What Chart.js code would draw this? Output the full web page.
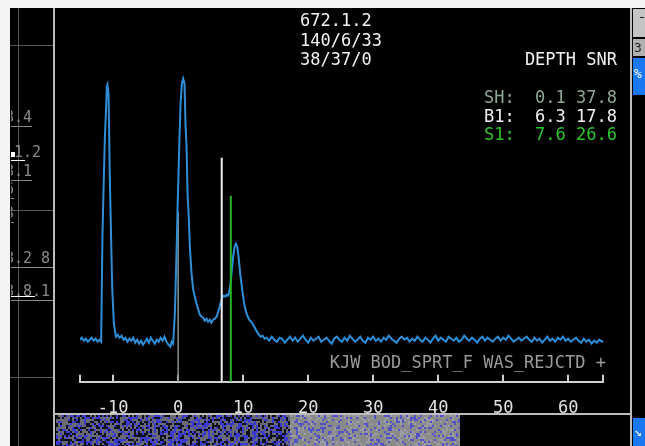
<!DOCTYPE html>
<html><head><meta charset="utf-8">
<script src="https://cdn.jsdelivr.net/npm/chart.js@4.4.1/dist/chart.umd.min.js"></script>
<style>html,body{margin:0;padding:0;background:#000;overflow:hidden}canvas{display:block}</style>
</head><body>
<canvas id="c" width="645" height="446"></canvas>
<script>
// ---- data ----
const xTicks = [-10, 0, 10, 20, 30, 40, 50, 60];
const xMin = -15.1, xMax = 65.4;
const yMax = 361.7;

const waveX = [
  -15.1,-14.8,-14.5,-14.2,-13.9,-13.6,-13.3,-13.0,-12.7,-12.4,-12.1,-11.85,
  -11.64,-11.43,-11.28,-11.12,-10.97,-10.87,-10.71,-10.51,-10.35,-10.15,-9.89,-9.58,
  -9.3,-9.0,-8.7,-8.4,-8.1,-7.8,-7.5,-7.2,-6.9,-6.6,-6.3,-6.0,-5.7,-5.4,-5.1,-4.8,-4.5,-4.2,-3.9,-3.6,-3.3,-3.0,-2.7,-2.4,-2.1,-1.8,-1.5,-1.2,-1.0,
  -0.77,-0.51,-0.35,-0.2,-0.09,0.06,0.15,0.37,0.57,0.77,0.98,1.14,1.29,1.45,1.65,1.8,2.06,2.31,2.6,2.83,3.1,3.34,3.6,3.85,4.1,4.37,4.6,4.88,5.1,5.38,5.65,5.91,6.1,6.31,6.5,6.68,6.85,7.03,7.25,7.45,7.65,7.8,8.06,8.26,8.46,8.68,8.88,9.08,9.29,9.54,9.85,10.15,10.52,10.92,11.2,11.45,11.7,11.95,12.2,12.42,12.7,13.0,13.3,
  13.6,14.0,14.4,14.8,15.2,15.6,16.0,16.4,16.8,17.2,17.6,18.0,18.4,18.8,19.2,19.6,20.0,20.4,20.8,21.2,21.6,22.0,22.4,22.8,23.2,23.6,24.0,24.4,24.8,25.2,25.6,26.0,26.4,26.8,27.2,27.6,28.0,28.4,28.8,29.2,29.6,30.0,30.4,30.8,31.2,31.6,32.0,32.4,32.8,33.2,33.6,34.0,34.4,34.8,35.2,35.6,36.0,36.4,36.8,37.2,37.6,38.0,38.4,38.8,39.2,39.6,40.0,40.4,40.8,41.2,41.6,42.0,42.4,42.8,43.2,43.6,44.0,44.4,44.8,45.2,45.6,46.0,46.4,46.8,47.2,47.6,48.0,48.4,48.8,49.2,49.6,50.0,50.4,50.8,51.2,51.6,52.0,52.4,52.8,53.2,53.6,54.0,54.4,54.8,55.2,55.6,56.0,56.4,56.8,57.2,57.6,58.0,58.4,58.8,59.2,59.6,60.0,60.4,60.8,61.2,61.6,62.0,62.4,62.8,63.2,63.6,64.0,64.4,64.8,65.2,65.4
];
const waveY = [
  42,44,41,43,40,42,44,41,43,40,42,40,
  148,205,243,268,295,297,288,203,155,95,58,45,
  47,44,46,42,44,40,43,41,44,39,42,38,41,37,40,43,39,44,41,38,42,40,44,41,45,40,37,35,40,
  38,68,105,142,175,208,232,278,298,303,298,255,235,188,162,135,108,92,84,78,72,67,65,64,61,63,60,62,59,62,63,65,69,73,78,82,85,86,85,87,86,88,98,112,125,135,138,135,125,108,92,78,68,62,60,58,55,52,49,47,45,46,43,
  44,41,45,42,40,44,43,39,42,45,
  41,44,40,43,46,42,39,44,41,43,
  45,40,42,44,41,38,43,45,42,40,
  44,41,46,43,40,42,45,41,39,44,
  42,45,41,43,40,44,42,46,43,41,
  39,43,45,42,44,40,43,41,45,42,
  40,44,42,39,43,46,41,44,42,40,
  45,43,41,44,40,42,46,43,41,44,
  42,39,43,45,41,44,42,40,43,45,
  41,44,42,46,43,40,42,44,41,43,
  45,42,40,44,41,43,39,42,45,41,
  43,40,44,42,45,41,43,40,42,44,
  41,39,43,40,42,38,41,39,42,40,41
];
const markerX = [0, 6.7, 8.1];
const markerTop = [170, 224, 186];
const markerColors = ['#7f9696', '#f2f2f2', '#22b422'];

const headerLines = ['672.1.2', '140/6/33', '38/37/0'];
const tableHeader = 'DEPTH SNR';
const tableRows = ['SH:  0.1 37.8', 'B1:  6.3 17.8', 'S1:  7.6 26.6'];
const tableColors = ['#8ea898', '#f0f0f0', '#2ec42e'];
const statusText = 'KJW BOD_SPRT_F WAS_REJCTD +';
const sideLabels = [['8.4', 117], ['8.1', 171], ['6', 189], ['3', 213], ['8.2 8.5', 258], ['8.8.1.2', 291]];

const MONO = '"DejaVu Sans Mono", "Liberation Mono", monospace';

// ---- decorations ----
function hash(x, y) {
  let h = Math.imul(x, 374761393) + Math.imul(y, 668265263);
  h = Math.imul(h ^ (h >>> 13), 1274126177);
  return (h ^ (h >>> 16)) >>> 0;
}
const frame = {
  id: 'frame',
  beforeDraw(chart) {
    const c = chart.ctx;
    c.save();
    c.fillStyle = '#000'; c.fillRect(0, 0, 645, 446);
    c.fillStyle = '#f4f4f4'; c.fillRect(0, 0, 645, 8); c.fillRect(0, 0, 10, 446);
    c.strokeStyle = '#555'; c.lineWidth = 1;
    c.beginPath();
    c.moveTo(18.5, 8); c.lineTo(18.5, 446);
    [45, 210, 377].forEach(y => { c.moveTo(10, y + 0.5); c.lineTo(53, y + 0.5); });
    c.stroke();
    c.fillStyle = '#bdbdbd';
    c.fillRect(53, 8, 2, 438);
    c.fillRect(630, 8, 2, 438);
    c.fillRect(55, 413, 575, 2);
    // bottom noise strip
    for (let x = 56; x < 460; x += 2) {
      for (let y = 415; y < 446; y += 2) {
        const r = hash(x, y) % 10;
        let col;
        if (x < 290) col = r < 3 ? '#101018' : (r < 7 ? '#6a6a74' : '#3a3ad0');
        else col = r < 6 ? '#8a8a8a' : (r < 8 ? '#5252c8' : '#9c9ca4');
        c.fillStyle = col; c.fillRect(x, y, 2, 2);
      }
    }
    // right panel buttons
    c.fillStyle = '#c4c4c4'; c.fillRect(633, 9, 12, 28);
    c.fillStyle = '#b0b0b0'; c.fillRect(633, 39, 12, 17);
    c.fillStyle = '#1a78f2'; c.fillRect(633, 58, 12, 37); c.fillRect(633, 418, 12, 28);
    c.fillStyle = '#222'; c.fillRect(640, 17, 4, 1);
    c.font = '13px ' + MONO; c.textBaseline = 'alphabetic'; c.textAlign = 'left';
    c.fillStyle = '#222'; c.fillText('3', 634, 52);
    c.fillStyle = '#fff'; c.fillText('%', 634, 78);
    c.fillText('\u2198', 634, 436);
    // left faded labels
    c.beginPath(); c.rect(11, 8, 42, 400); c.clip();
    c.font = '15px ' + MONO; c.fillStyle = '#8a8a8a'; c.strokeStyle = '#8a8a8a';
    sideLabels.forEach(([t, y]) => {
      c.fillText(t, 5, y + 5);
      c.beginPath(); c.moveTo(11, y + 9.5); c.lineTo(5 + t.length * 9, y + 9.5); c.stroke();
    });
    c.fillText('1.2', 14, 157);
    c.fillStyle = '#fff'; c.fillRect(11, 152, 4, 5);
    c.fillRect(11, 160, 14, 1); c.fillRect(11, 296, 24, 1);
    c.restore();
  },
  afterDraw(chart) {
    const c = chart.ctx;
    c.save();
    c.font = '17px ' + MONO; c.textBaseline = 'alphabetic';
    c.textAlign = 'left'; c.fillStyle = '#f2f2f2';
    headerLines.forEach((t, i) => c.fillText(t, 300, 26 + i * 19.5));
    c.textAlign = 'right';
    c.fillText(tableHeader, 617, 65);
    tableRows.forEach((t, i) => { c.fillStyle = tableColors[i]; c.fillText(t, 617, 103 + i * 18.7); });
    c.fillStyle = '#9a9a9a';
    c.fillText(statusText, 606, 368);
    c.restore();
  }
};

// ---- chart ----
const datasets = [{
  data: waveX.map((x, i) => ({ x, y: waveY[i] })),
  showLine: true, borderColor: '#2e8fd8', borderWidth: 2, pointRadius: 0, tension: 0, order: 1
}];
markerX.forEach((mx, k) => {
  datasets.push({
    data: [{ x: mx, y: 0 }, { x: mx, y: markerTop[k] }],
    showLine: true, borderColor: markerColors[k], borderWidth: k === 0 ? 1.5 : 2,
    pointRadius: 0, order: k === 0 ? 2 : 0
  });
});

new Chart(document.getElementById('c'), {
  type: 'scatter',
  data: { datasets },
  plugins: [frame],
  options: {
    responsive: false, animation: false, devicePixelRatio: 1,
    layout: { padding: { left: 80, right: 41.7, top: 20, bottom: 0 } },
    plugins: { legend: { display: false }, tooltip: { enabled: false } },
    scales: {
      x: {
        type: 'linear', min: xMin, max: xMax,
        afterBuildTicks: s => { s.ticks = [xMin, ...xTicks, xMax].map(v => ({ value: v })); },
        afterFit: s => { s.height = 446 - 381.7; },
        ticks: {
          callback: v => xTicks.includes(v) ? String(v) : '',
          color: '#e2e2e2', font: { family: MONO, size: 17 }, padding: 24, maxRotation: 0, autoSkip: false
        },
        grid: { drawOnChartArea: false, drawTicks: true, tickLength: -7, color: '#d0d0d0', lineWidth: 2 },
        border: { display: true, color: '#d0d0d0', width: 2 }
      },
      y: { display: false, min: 0, max: yMax }
    }
  }
});
</script>
</body></html>
